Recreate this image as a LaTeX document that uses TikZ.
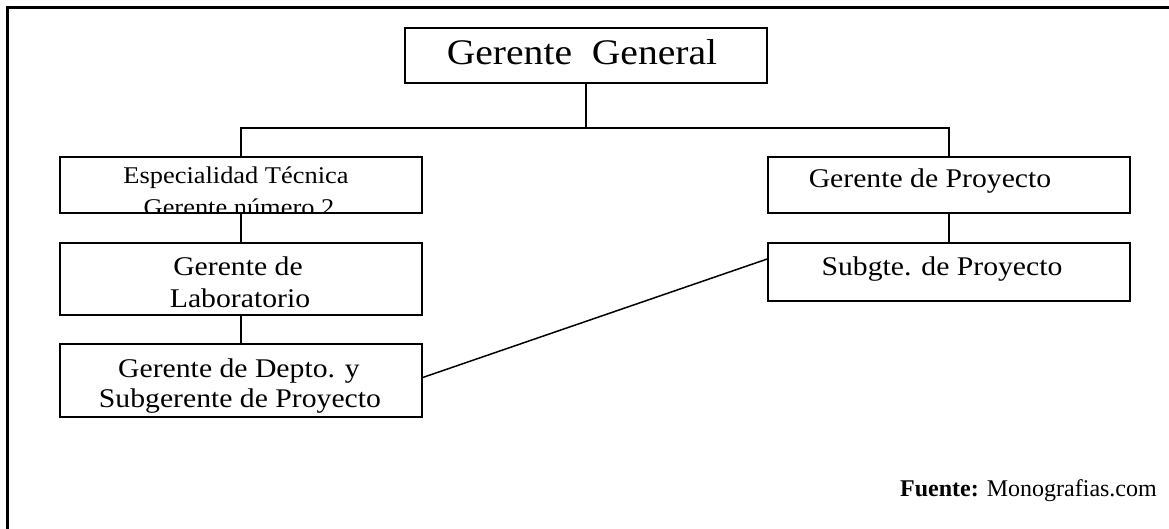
\documentclass[tikz,border=0pt]{standalone}
\usepackage{fontspec}
\setmainfont{Liberation Serif}
\newfontfamily\boxfont[FakeStretch=1.1]{Liberation Serif}
\usetikzlibrary{fit}

\tikzset{
  orgbox/.style={draw, line width=1.5pt, rectangle, inner sep=0pt},
  link/.style={line width=1.5pt},
  frameline/.style={line width=3pt},
  lbl/.style={inner sep=0pt, anchor=base, font=\boxfont\fontsize{27}{27}\selectfont},
  lblbig/.style={lbl, font=\boxfont\fontsize{36}{36}\selectfont},
  lblsmall/.style={lbl, font=\boxfont\fontsize{24}{24}\selectfont},
}

\newcommand{\orgrect}[3]{% name, corner 1, corner 2
  \path #2 coordinate (#1-a) #3 coordinate (#1-b);
  \node[orgbox, fit=(#1-a)(#1-b)] (#1) {};
}

\begin{document}
\begin{tikzpicture}[x=1pt, y=-1pt]
  \useasboundingbox (0,0) rectangle (1169,529);

  % outer frame (top and left edges)
  \draw[frameline] (1169,7.5) -- (7.5,7.5) -- (7.5,529);

  % boxes
  \orgrect{gg}{(405,28)}{(767,83)}
  \orgrect{esp}{(60,157)}{(422,213)}
  \orgrect{gp}{(768,157)}{(1130,213)}
  \orgrect{lab}{(60,243)}{(422,315)}
  \orgrect{dep}{(60,344)}{(422,417)}
  \orgrect{sub}{(768,243)}{(1130,301)}

  % labels
  \node[lblbig] (ggt) at (582,65) {Gerente\ \ General};

  \node[lblsmall] (esp1) at (236,184) {Especialidad Técnica};
  \begin{scope}
    \clip (esp-a) rectangle (esp-b);
    \node[lblsmall] (esp2) at (239,216) {Gerente número 2};
  \end{scope}

  \node[lbl] (gpt) at (930,188) {Gerente de Proyecto};
  \node[lbl] (subt) at (942,275) {Subgte. de Proyecto};

  \node[lbl] (lab1) at (238,275) {Gerente de};
  \node[lbl] (lab2) at (240,307) {Laboratorio};

  \node[lbl] (dep1) at (239,377) {Gerente de Depto. y};
  \node[lbl] (dep2) at (240,407) {Subgerente de Proyecto};

  % connectors
  \coordinate (bus) at (gg.south |- 0,128);
  \draw[link] (gg.south) -- (bus);
  \draw[link] (esp.north) |- (bus) -| (gp.north);
  \draw[link] (esp.south) -- (lab.north);
  \draw[link] (lab.south) -- (dep.north);
  \draw[link] (gp.south) -- (sub.north);
  \draw[link] ([yshift=3pt]dep.east) -- ([yshift=13pt]sub.west);

  % source note
  \node[inner sep=0pt, anchor=base east, font=\fontsize{24}{24}\selectfont]
    (src) at (1157,496) {\textbf{Fuente:} Monografias.com};
\end{tikzpicture}
\end{document}
